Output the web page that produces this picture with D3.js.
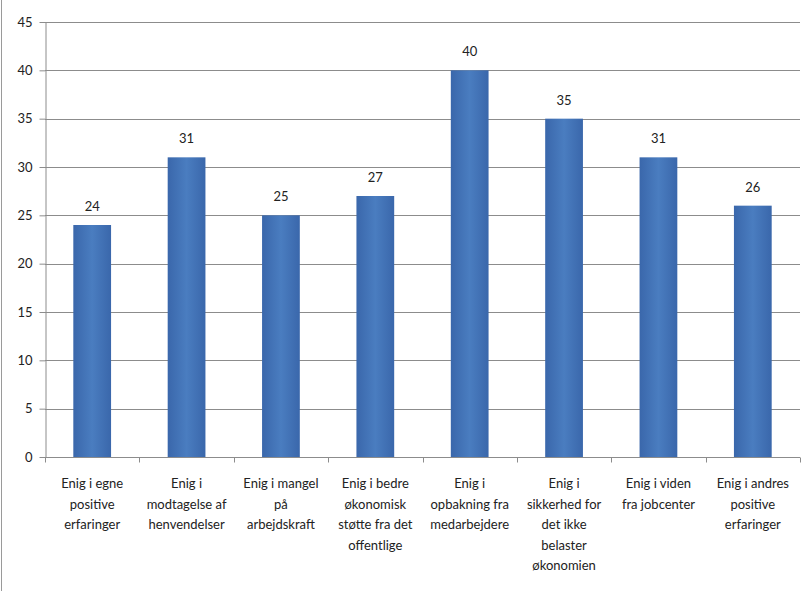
<!DOCTYPE html>
<html>
<head>
<meta charset="utf-8">
<script src="https://cdn.jsdelivr.net/npm/d3@7"></script>
<style>
  body { margin: 0; background: #fff; }
  svg { display: block; }
</style>
</head>
<body>
<div id="chart"></div>
<script>
// data
const categories = [
    ["Enig i egne", "positive", "erfaringer"],
    ["Enig i", "modtagelse af", "henvendelser"],
    ["Enig i mangel", "på", "arbejdskraft"],
    ["Enig i bedre", "økonomisk", "støtte fra det", "offentlige"],
    ["Enig i", "opbakning fra", "medarbejdere"],
    ["Enig i", "sikkerhed for", "det ikke", "belaster", "økonomien"],
    ["Enig i viden", "fra jobcenter"],
    ["Enig i andres", "positive", "erfaringer"]
];
const values = [24, 31, 25, 27, 40, 35, 31, 26];
const yTicks = [0, 5, 10, 15, 20, 25, 30, 35, 40, 45];

const width = 811, height = 591;
const margin = {left: 45, right: 11, top: 22, bottom: 134};

const svg = d3.select("#chart").append("svg")
    .attr("width", width)
    .attr("height", height)
    .style("font-family", "Lato, 'Open Sans', sans-serif");

// outer border on the left
svg.append("line")
    .attr("x1", 1.5).attr("x2", 1.5)
    .attr("y1", 0).attr("y2", height)
    .attr("stroke", "#9a9a9a");

const x = d3.scaleBand()
    .domain(d3.range(categories.length))
    .range([margin.left, width - margin.right])
    .paddingInner(0.6)
    .paddingOuter(0.3);

const y = d3.scaleLinear()
    .domain([0, 45])
    .range([height - margin.bottom, margin.top]);

// gridlines
svg.append("g")
    .selectAll("line")
    .data(yTicks.slice(1))
    .enter().append("line")
    .attr("x1", margin.left)
    .attr("x2", width - margin.right)
    .attr("y1", d => Math.round(y(d)) + 0.5)
    .attr("y2", d => Math.round(y(d)) + 0.5)
    .attr("stroke", "#8c8c8c");

// y axis
const yAxis = svg.append("g")
    .attr("transform", `translate(${margin.left + 0.5},0)`)
    .call(d3.axisLeft(y).tickValues(yTicks).tickSize(6).tickPadding(7).tickSizeOuter(0));
yAxis.selectAll("path, line").attr("stroke", "#8c8c8c");
yAxis.selectAll("text")
    .attr("font-size", 13)
    .attr("fill", "#222")
    .attr("font-family", "Lato, 'Open Sans', sans-serif");

// bars
const grad = svg.append("defs").append("linearGradient")
    .attr("id", "barGrad")
    .attr("x1", 0).attr("x2", 1).attr("y1", 0).attr("y2", 0);
grad.append("stop").attr("offset", "0%").attr("stop-color", "#3a67ab");
grad.append("stop").attr("offset", "50%").attr("stop-color", "#4a7dc0");
grad.append("stop").attr("offset", "100%").attr("stop-color", "#3a67ab");

svg.append("g")
    .selectAll("rect")
    .data(values)
    .enter().append("rect")
    .attr("x", (d, i) => x(i))
    .attr("width", x.bandwidth())
    .attr("y", d => y(d))
    .attr("height", d => y(0) - y(d))
    .attr("fill", "url(#barGrad)");

// value labels
svg.append("g")
    .selectAll("text")
    .data(values)
    .enter().append("text")
    .attr("x", (d, i) => x(i) + x.bandwidth() / 2)
    .attr("y", d => y(d) - 14)
    .attr("text-anchor", "middle")
    .attr("font-size", 13)
    .attr("fill", "#222")
    .text(d => d);

// x axis (line + ticks at category boundaries)
const step = x.step();
const x0 = margin.left, y0 = Math.round(y(0)) + 0.5;
svg.append("line")
    .attr("x1", x0).attr("x2", width - margin.right)
    .attr("y1", y0).attr("y2", y0)
    .attr("stroke", "#8c8c8c");
svg.append("g")
    .selectAll("line")
    .data(d3.range(categories.length + 1))
    .enter().append("line")
    .attr("x1", i => Math.round(x0 + i * step) + 0.5)
    .attr("x2", i => Math.round(x0 + i * step) + 0.5)
    .attr("y1", y0).attr("y2", y0 + 5)
    .attr("stroke", "#8c8c8c");

// category labels
const labels = svg.append("g")
    .selectAll("text")
    .data(categories)
    .enter().append("text")
    .attr("text-anchor", "middle")
    .attr("font-size", 13)
    .attr("fill", "#222");
labels.each(function(lines, i) {
    const cx = x(i) + x.bandwidth() / 2;
    d3.select(this).selectAll("tspan")
        .data(lines)
        .enter().append("tspan")
        .attr("x", cx)
        .attr("y", (d, j) => 488 + j * 20.5)
        .text(d => d);
});
</script>
</body>
</html>
